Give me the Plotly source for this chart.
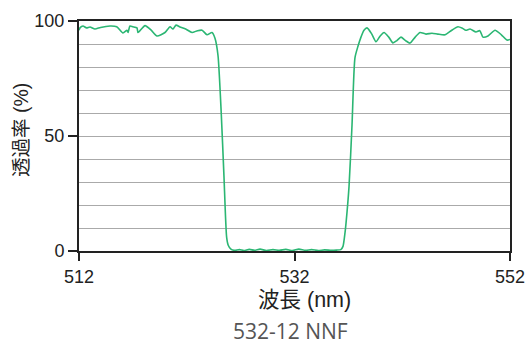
import plotly.graph_objects as go

wavelength_nm = [
    512.0, 512.09, 512.37, 512.7, 513.02, 513.48, 514.0, 514.88, 515.5, 516.08, 516.45, 516.55, 516.73,
    517.0, 517.38, 517.48, 518.13, 518.7, 519.24, 519.98, 520.45, 520.72, 521.0, 521.37,
    521.9, 522.49, 523.0, 523.42, 523.88, 524.34, 524.62, 524.9, 525.2, 525.45, 525.7,
    525.85, 526.1, 526.4, 526.9, 527.3, 527.8, 528.3, 528.8, 529.4, 530.0, 530.6,
    531.2, 531.8, 532.4, 533.0, 533.6, 534.2, 534.8, 535.4, 535.9, 536.3, 536.5,
    536.69, 536.78, 537.06, 537.34, 537.61, 537.89, 538.17, 538.45, 538.73, 539.15,
    539.56, 539.95, 540.31, 540.75, 541.14, 541.5, 541.88, 542.3, 542.72, 543.2, 543.65,
    544.2, 544.76, 545.3, 545.97, 546.6, 547.17, 547.6, 547.9, 548.29, 548.84, 549.2,
    549.49, 549.96, 550.61, 551.2, 551.72, 552.0,
]
transmission_pct = [
    96.0, 97.0, 97.8, 97.0, 97.4, 96.5, 97.2, 97.8, 97.5, 94.8, 96.0, 95.0, 97.8,
    97.5, 97.0, 95.0, 98.0, 96.0, 93.5, 95.0, 97.5, 96.5, 98.2, 97.4,
    96.5, 95.0, 95.8, 96.0, 94.0, 95.0, 92.5, 85.0, 60.0, 33.0, 6.0,
    2.5, 0.8, 0.3, 0.6, 0.2, 0.7, 0.3, 0.8, 0.2, 0.6, 0.3,
    0.7, 0.2, 0.8, 0.3, 0.6, 0.2, 0.5, 0.3, 0.4, 0.6, 2.0,
    8.0, 12.0, 28.0, 55.0, 84.0, 89.0, 93.0, 96.0, 97.0, 94.5,
    91.0, 93.5, 95.0, 93.0, 90.5, 91.5, 93.0, 91.5, 90.4, 93.0, 95.0,
    94.3, 94.7, 94.3, 94.0, 96.0, 97.5, 96.8, 96.0, 96.5, 95.2, 95.8,
    93.0, 93.5, 96.0, 94.0, 91.7, 92.0,
]
x_ticks = [512, 532, 552]
y_ticks = [0, 50, 100]
x_title = "波長 (nm)"
y_title = "透過率 (%)"
caption = "532-12 NNF"

tick_font = dict(family="Liberation Sans, Arial, sans-serif", size=18, color="#222")

fig = go.Figure()
fig.add_trace(go.Scatter(
    x=wavelength_nm, y=transmission_pct, mode="lines",
    line=dict(color="#2bb673", width=1.6, shape="spline", smoothing=0.6),
    hoverinfo="skip", showlegend=False,
))

fig.update_layout(
    width=529, height=345,
    margin=dict(l=79, r=19, t=21, b=94, autoexpand=False),
    paper_bgcolor="white", plot_bgcolor="white",
    font=dict(family="Liberation Sans, sans-serif", size=18, color="#222"),
    xaxis=dict(
        range=[512, 552], tickvals=x_ticks, ticks="outside", ticklen=8, tickwidth=2,
        tickcolor="#222", showline=True, linecolor="#222", linewidth=2, mirror=True,
        showgrid=False, zeroline=False, automargin=False, tickfont=tick_font,
    ),
    yaxis=dict(
        range=[0, 100], tickvals=y_ticks, ticks="outside", ticklen=9, tickwidth=2,
        tickcolor="#222", showline=True, linecolor="#222", linewidth=2, mirror=True,
        showgrid=True, gridcolor="#aaaaaa", gridwidth=1, zeroline=False, automargin=False,
        minor=dict(dtick=10, showgrid=True, gridcolor="#aaaaaa", gridwidth=1),
        tickfont=tick_font,
    ),
    annotations=[
        dict(text=x_title, x=0.5, y=0, xref="paper", yref="paper",
             xanchor="center", yanchor="middle", xshift=10, yshift=-49, showarrow=False,
             font=dict(family="Liberation Sans, Noto Sans CJK JP, sans-serif", size=21.5, color="#222")),
        dict(text=y_title, x=0, y=0.5, xref="paper", yref="paper", textangle=-90,
             xanchor="center", yanchor="middle", xshift=-58, yshift=6, showarrow=False,
             font=dict(family="Liberation Sans, Noto Sans CJK JP, sans-serif", size=19.5, color="#222")),
        dict(text=caption, x=0.5, y=0, xref="paper", yref="paper",
             xanchor="center", yanchor="middle", xshift=-4, yshift=-80, showarrow=False,
             font=dict(family="Open Sans, sans-serif", size=21, color="#555")),
    ],
)

fig.write_html("out.html", config={"displayModeBar": False},
               post_script="document.body.style.margin='0';")
